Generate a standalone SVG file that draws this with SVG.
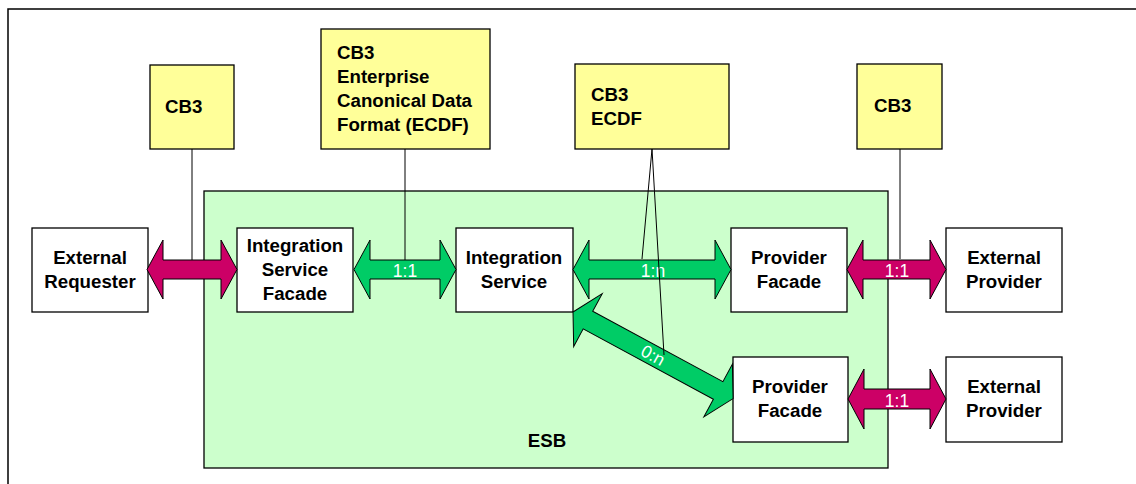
<svg xmlns="http://www.w3.org/2000/svg" width="1136" height="484" viewBox="0 0 1136 484">
<style>
.box{fill:#ffffff;stroke:#000;stroke-width:1.3}
.note{fill:#ffff99;stroke:#000;stroke-width:1.3}
.t{font-family:"Liberation Sans",Arial,sans-serif;font-weight:bold;font-size:18.7px;fill:#000}
.c{text-anchor:middle}
.lbl{font-family:"Liberation Sans",Arial,sans-serif;font-size:17.5px;fill:#fff;text-anchor:middle}
.mag{fill:#cc0066;stroke:#000;stroke-width:1}
.grn{fill:#00cc66;stroke:#000;stroke-width:1}
.ln{stroke:#000;stroke-width:1;fill:none}
</style>
<rect x="0" y="0" width="1136" height="484" fill="#fff"/>
<rect x="8" y="9" width="1140" height="490" fill="none" stroke="#000" stroke-width="1.5"/>
<g id="esb">
<rect x="204" y="191" width="684" height="277" fill="#ccffcc" stroke="#000" stroke-width="1.3"/>
<text class="t c" x="547" y="447">ESB</text>
</g>
<g id="cb3-1">
<rect class="note" x="150" y="65" width="84" height="84"/>
<text class="t" x="165" y="113">CB3</text>
</g>
<g id="cb3-ecdf-full">
<rect class="note" x="321" y="29" width="169" height="120"/>
<text class="t" x="337" y="59">CB3</text>
<text class="t" x="337" y="83">Enterprise</text>
<text class="t" x="337" y="107">Canonical Data</text>
<text class="t" x="337" y="131">Format (ECDF)</text>
</g>
<g id="cb3-ecdf">
<rect class="note" x="575" y="64" width="154" height="85"/>
<text class="t" x="591" y="101">CB3</text>
<text class="t" x="591" y="125">ECDF</text>
</g>
<g id="cb3-2">
<rect class="note" x="857" y="64" width="85" height="85"/>
<text class="t" x="874" y="112">CB3</text>
</g>
<g id="external-requester">
<rect class="box" x="32" y="228" width="116" height="84"/>
<text class="t c" x="90" y="264">External</text>
<text class="t c" x="90" y="288">Requester</text>
</g>
<g id="isf">
<rect class="box" x="237" y="228" width="116" height="84"/>
<text class="t c" x="295" y="252">Integration</text>
<text class="t c" x="295" y="276">Service</text>
<text class="t c" x="295" y="300">Facade</text>
</g>
<g id="is">
<rect class="box" x="456" y="228" width="117" height="84"/>
<text class="t c" x="514" y="264">Integration</text>
<text class="t c" x="514" y="288">Service</text>
</g>
<g id="pf1">
<rect class="box" x="731" y="228" width="116" height="84"/>
<text class="t c" x="789" y="264">Provider</text>
<text class="t c" x="789" y="288">Facade</text>
</g>
<g id="ep1">
<rect class="box" x="946" y="228" width="116" height="84"/>
<text class="t c" x="1004" y="264">External</text>
<text class="t c" x="1004" y="288">Provider</text>
</g>
<g id="pf2">
<rect class="box" x="733" y="357" width="115" height="85"/>
<text class="t c" x="790" y="393">Provider</text>
<text class="t c" x="790" y="417">Facade</text>
</g>
<g id="ep2">
<rect class="box" x="946" y="357" width="116" height="85"/>
<text class="t c" x="1004" y="393">External</text>
<text class="t c" x="1004" y="417">Provider</text>
</g>
<g id="connectors">
<path class="mag" d="M147,269.5 L163,240 L163,260 L221,260 L221,240 L237,269.5 L221,299 L221,279 L163,279 L163,299 Z"/>
<path class="grn" d="M354,269.5 L370,240 L370,260 L440,260 L440,240 L456,269.5 L440,299 L440,279 L370,279 L370,299 Z"/>
<text class="lbl" x="405" y="277">1:1</text>
<path class="grn" d="M573,269.5 L589,240 L589,260 L715,260 L715,240 L731,269.5 L715,299 L715,279 L589,279 L589,299 Z"/>
<text class="lbl" x="653" y="277">1:n</text>
<path class="mag" d="M847,269.5 L863,240 L863,260 L930,260 L930,240 L946,269.5 L930,299 L930,279 L863,279 L863,299 Z"/>
<text class="lbl" x="897" y="277">1:1</text>
<path class="mag" d="M848,399 L864,369 L864,389 L930,389 L930,369 L946,399 L930,429 L930,409 L864,409 L864,429 Z"/>
<text class="lbl" x="897" y="407">1:1</text>
<g transform="translate(573,312) rotate(28.4)">
<path class="grn" d="M0,0 L17,-30 L17,-10 L165,-10 L165,-30 L182,0 L165,30 L165,10 L17,10 L17,30 Z"/>
<text class="lbl" x="91" y="6">0:n</text>
</g>
<line class="ln" x1="192" y1="149" x2="192" y2="260"/>
<line class="ln" x1="405" y1="149" x2="405" y2="260"/>
<line class="ln" x1="652" y1="149" x2="642" y2="259"/>
<line class="ln" x1="652" y1="149" x2="664" y2="355"/>
<line class="ln" x1="900" y1="149" x2="900" y2="259"/>
</g>
</svg>
